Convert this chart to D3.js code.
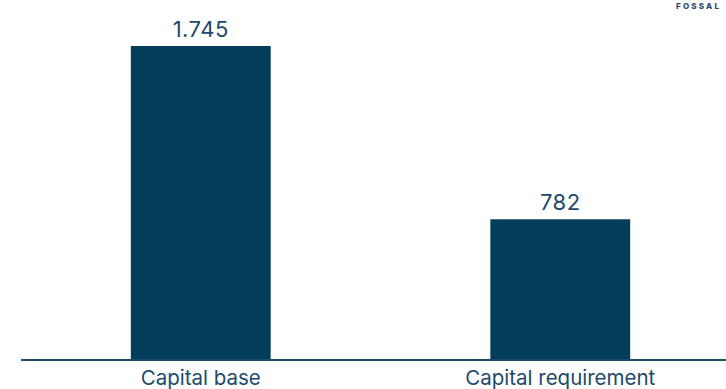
<!DOCTYPE html>
<html>
<head>
<meta charset="utf-8">
<script src="https://cdn.jsdelivr.net/npm/d3@7"></script>
<style>
  html, body { margin: 0; padding: 0; background: #fff; }
  svg { display: block; }
</style>
</head>
<body>
<svg id="chart" width="726" height="389"></svg>
<script>
const categories = ["Capital base", "Capital requirement"];
const values = [1745, 782];
const valueLabels = ["1.745", "782"];
const brand = "FOSSAL";

const W = 726, H = 389;
const svg = d3.select("#chart");
const baseY = 360;

const x = d3.scaleBand()
  .domain(categories)
  .range([21, 740])
  .paddingInner(0.611)
  .paddingOuter(0.3055);

const y = d3.scaleLinear()
  .domain([0, 1745])
  .range([baseY, 46]);

const barColor = "#023E5B";
const textColor = "#1d4a6b";

svg.selectAll("rect.bar")
  .data(values)
  .enter().append("rect")
  .attr("class", "bar")
  .attr("x", (d, i) => x(categories[i]))
  .attr("y", d => y(d))
  .attr("width", x.bandwidth())
  .attr("height", d => baseY - y(d))
  .attr("fill", barColor);

svg.selectAll("text.val")
  .data(values)
  .enter().append("text")
  .attr("class", "val")
  .attr("x", (d, i) => x(categories[i]) + x.bandwidth() / 2)
  .attr("y", d => y(d) - 9)
  .attr("text-anchor", "middle")
  .attr("font-family", "Inter, 'Noto Sans', sans-serif")
  .attr("font-size", 22)
  .attr("letter-spacing", 0.5)
  .attr("fill", textColor)
  .text((d, i) => valueLabels[i]);

// baseline axis
const axis = svg.append("g")
  .attr("transform", `translate(0,${baseY})`)
  .call(d3.axisBottom(x).tickSize(0).tickPadding(0));
axis.select(".domain")
  .attr("d", `M21,0H${W}`)
  .attr("stroke", textColor)
  .attr("stroke-width", 2);
axis.selectAll(".tick text")
  .attr("dy", null)
  .attr("y", 24.5)
  .attr("font-family", "Inter, 'Noto Sans', sans-serif")
  .attr("font-size", 20.5)
  .attr("fill", textColor);

svg.append("text")
  .attr("x", 676)
  .attr("y", 9)
  .attr("font-family", "Inter, 'Noto Sans', sans-serif")
  .attr("font-size", 8)
  .attr("font-weight", 800)
  .attr("letter-spacing", 2.2)
  .attr("fill", "#2c4a6b")
  .text(brand);
</script>
</body>
</html>
